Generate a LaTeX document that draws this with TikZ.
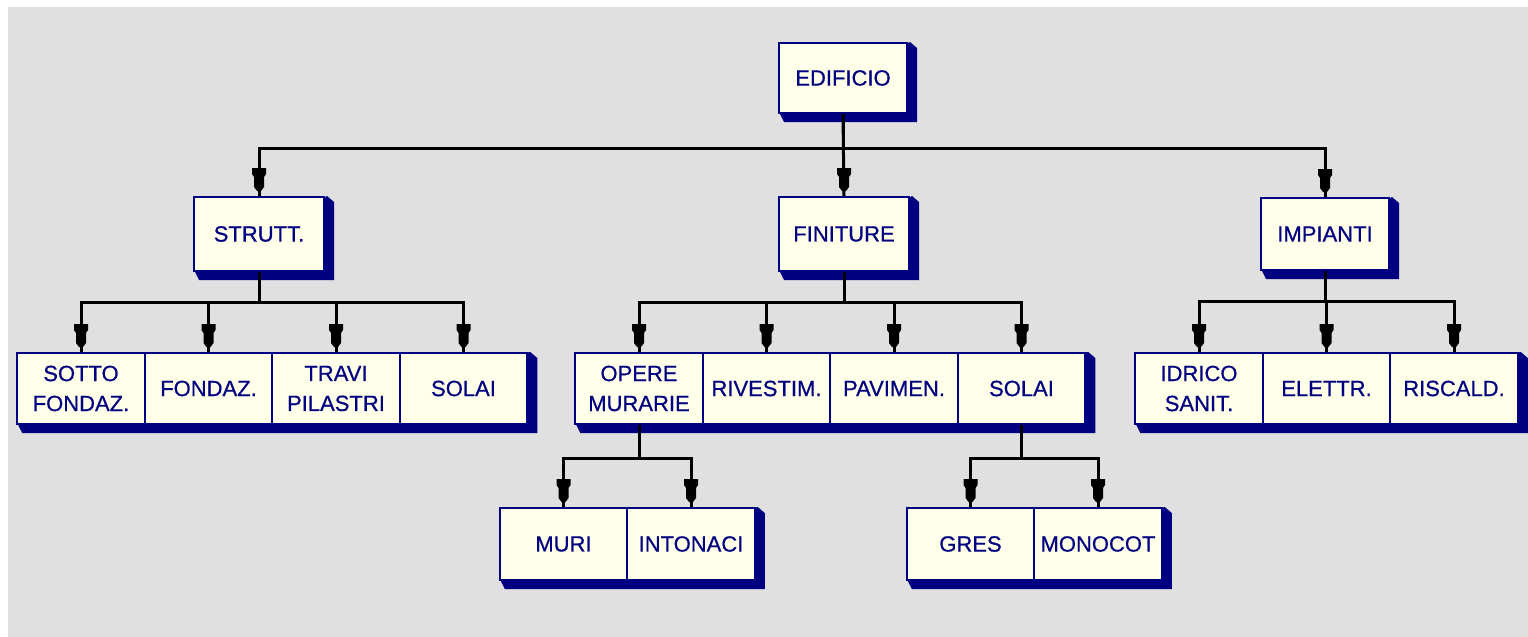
\documentclass[tikz,border=0pt]{standalone}
\usepackage{fontspec}
\setmainfont{Liberation Sans}
\newfontfamily\boxfont{Liberation Sans}[FakeBold=0.6]
\usetikzlibrary{calc,backgrounds}
\definecolor{navy}{RGB}{0,0,128}
\definecolor{cream}{RGB}{255,255,234}
\definecolor{bg}{RGB}{224,224,224}
\tikzset{
  box/.style={draw=navy, line width=1pt, fill=cream, text=navy, inner sep=0pt,
    minimum width=64pt, minimum height=36pt, align=center,
    font=\boxfont\fontsize{11}{15}\selectfont},
  cell/.style={box, minimum width=63.75pt, minimum height=35.5pt},
  conn/.style={black, line width=1.5pt},
}
\newcommand\shad[2]{%
  \fill[navy] ($(#1.south west)+(2,0)$) -- ($(#1.south west)+(6,8)$) -- ($(#2.south east)+(9,8)$)
   -- ($(#2.north east)+(9,6)$) -- ($(#2.north east)+(2,0)$) -- cycle;}
\newcommand\amark[1]{%
  \fill[black, shift={(#1.north)}] (-7,-28) -- (7,-28) -- (7,-22) -- (5,-19) -- (5,-9) -- (2,-5) -- (-2,-5) -- (-5,-9) -- (-5,-19) -- (-7,-22) -- cycle;}
\begin{document}
\begin{tikzpicture}[x={(0.5pt,0)}, y={(0,-0.5pt)}]
\useasboundingbox (0,0) rectangle (1528,637);
% level 0
\node[box, minimum width=64pt, minimum height=35pt] (edi) at (843,78) {EDIFICIO};
% level 1
\node[box, minimum width=65pt, minimum height=37pt] (str) at (259,234) {STRUTT.};
\node[box, minimum width=65pt, minimum height=37pt] (fin) at (844,234) {FINITURE};
\node[box, minimum width=64pt, minimum height=36pt] (imp) at (1325,234) {IMPIANTI};
% level 2
\node[cell] (sot) at (81,388.5) {SOTTO\\FONDAZ.};
\node[cell] (fon) at (208.5,388.5) {FONDAZ.};
\node[cell] (tra) at (336,388.5) {TRAVI\\PILASTRI};
\node[cell] (sol) at (463.5,388.5) {SOLAI};
\node[cell] (ope) at (639,388.5) {OPERE\\MURARIE};
\node[cell] (riv) at (766.5,388.5) {RIVESTIM.};
\node[cell] (pav) at (894,388.5) {PAVIMEN.};
\node[cell] (so2) at (1021.5,388.5) {SOLAI};
\node[cell] (idr) at (1199,388.5) {IDRICO\\SANIT.};
\node[cell] (ele) at (1326.5,388.5) {ELETTR.};
\node[cell] (ris) at (1454,388.5) {RISCALD.};
% level 3
\node[cell, minimum height=36pt] (mur) at (563.5,544) {MURI};
\node[cell, minimum height=36pt] (int) at (691,544) {INTONACI};
\node[cell, minimum height=36pt] (gre) at (970.5,544) {GRES};
\node[cell, minimum height=36pt] (mon) at (1098,544) {MONOCOT};
\begin{scope}[on background layer]
  \fill[bg] (8,7) rectangle (1528,637);
  \shad{edi}{edi}
  \shad{str}{str}
  \shad{fin}{fin}
  \shad{imp}{imp}
  \shad{sot}{sol}
  \shad{ope}{so2}
  \shad{idr}{ris}
  \shad{mur}{int}
  \shad{gre}{mon}
  % connectors
  \draw[conn] (edi.south) -- ++(0,34) -| (str.north);
  \draw[conn] (edi.south) -- ++(0,34) -| (imp.north);
  \draw[conn] (edi.south) -- (fin.north);
  \foreach \cc in {sot,fon,tra,sol} {\draw[conn] (str.south) -- ++(0,30) -| (\cc.north);}
  \foreach \cc in {ope,riv,pav,so2} {\draw[conn] (fin.south) -- ++(0,30) -| (\cc.north);}
  \foreach \cc in {idr,ele,ris} {\draw[conn] (imp.south) -- ++(0,30) -| (\cc.north);}
  \foreach \cc in {mur,int} {\draw[conn] (ope.south) -- ++(0,33) -| (\cc.north);}
  \foreach \cc in {gre,mon} {\draw[conn] (so2.south) -- ++(0,33) -| (\cc.north);}
\end{scope}
\foreach \cc in {str,fin,imp,sot,fon,tra,sol,ope,riv,pav,so2,idr,ele,ris,mur,int,gre,mon} {\amark{\cc}}
\end{tikzpicture}
\end{document}
